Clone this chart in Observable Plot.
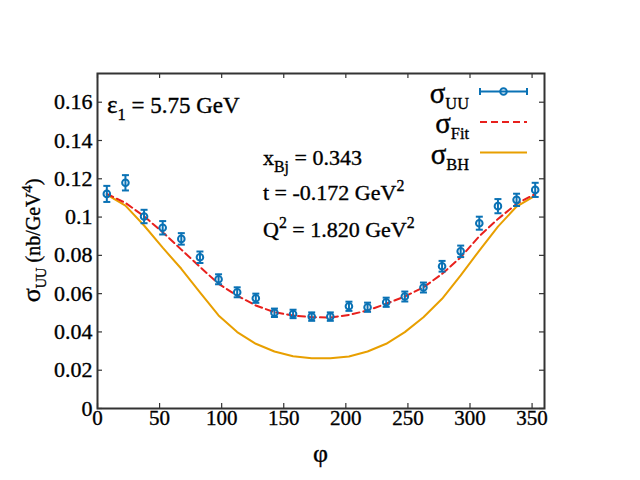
<!DOCTYPE html>
<html>
<head>
<meta charset="utf-8">
<script src="https://cdn.jsdelivr.net/npm/d3@7"></script>
<script src="https://cdn.jsdelivr.net/npm/@observablehq/plot@0.6"></script>
<style>
  html, body { margin: 0; padding: 0; background: white; }
  svg text { font-family: "Liberation Serif", serif; stroke: black; stroke-width: 0.35px; }
</style>
</head>
<body>
<div id="chart"></div>
<script>
// ---- data ----
const phi = [7.5, 22.5, 37.5, 52.5, 67.5, 82.5, 97.5, 112.5, 127.5, 142.5, 157.5, 172.5,
             187.5, 202.5, 217.5, 232.5, 247.5, 262.5, 277.5, 292.5, 307.5, 322.5, 337.5, 352.5];
const sigmaUU = [0.1121, 0.1179, 0.1003, 0.0944, 0.0886, 0.0790, 0.0675, 0.0607, 0.0576, 0.0500, 0.0494, 0.0480,
                 0.0480, 0.0534, 0.0529, 0.0555, 0.0585, 0.0632, 0.0743, 0.0821, 0.0968, 0.1057, 0.1090, 0.1142];
const sigmaErr = [0.0042, 0.0040, 0.0035, 0.0035, 0.0030, 0.0030, 0.0026, 0.0026, 0.0024, 0.0022, 0.0022, 0.0022,
                  0.0022, 0.0024, 0.0024, 0.0024, 0.0026, 0.0026, 0.0028, 0.0030, 0.0034, 0.0037, 0.0032, 0.0037];
const sigmaFit = [0.1121, 0.1074, 0.1004, 0.0921, 0.0830, 0.0740, 0.0651, 0.0590, 0.0538, 0.0503, 0.0486, 0.0477,
                  0.0475, 0.0489, 0.0512, 0.0547, 0.0585, 0.0633, 0.0703, 0.0790, 0.0900, 0.0990, 0.1069, 0.1121];
const sigmaBH = [0.1117, 0.1060, 0.0956, 0.0840, 0.0730, 0.0607, 0.0486, 0.0399, 0.0338, 0.0298, 0.0273, 0.0263,
                 0.0263, 0.0272, 0.0298, 0.0338, 0.0399, 0.0477, 0.0573, 0.0695, 0.0825, 0.0950, 0.1055, 0.1112];

const xTicks = [0, 50, 100, 150, 200, 250, 300, 350];
const yTicks = [0, 0.02, 0.04, 0.06, 0.08, 0.1, 0.12, 0.14, 0.16];

const legendLabels = [["σ", "UU"], ["σ", "Fit"], ["σ", "BH"]];
const annotEps = [["ε", ""], ["1", "sub"], [" = 5.75 GeV", ""]];
const annotX = [["x", ""], ["Bj", "sub"], [" = 0.343", ""]];
const annotT = [["t = -0.172 GeV", ""], ["2", "sup"]];
const annotQ = [["Q", ""], ["2", "sup"], [" = 1.820 GeV", ""], ["2", "sup"]];
const yLabel = [["σ", ""], ["UU", "sub"], [" (nb/GeV", ""], ["4", "sup"], [")", ""]];
const xLabel = "φ";

const rows = phi.map((p, i) => ({phi: p, uu: sigmaUU[i], err: sigmaErr[i], fit: sigmaFit[i], bh: sigmaBH[i]}));

// ---- styles ----
const BLUE = "#0a72b5", RED = "#e8201c", ORANGE = "#e89f00", FRAME = "#333";
const W = 640, H = 480, ML = 97, MR = 96, MT = 73, MB = 72;
const PW = W - ML - MR, PH = H - MT - MB;

const capSymbol = {
  draw(context, size) {
    const w = Math.sqrt(size / Math.PI);
    context.moveTo(-w, 0);
    context.lineTo(w, 0);
  }
};

const chart = Plot.plot({
  width: W, height: H,
  marginLeft: ML, marginRight: MR, marginTop: MT, marginBottom: MB,
  x: {domain: [0, 360]},
  y: {domain: [0, 0.175]},
  style: {fontFamily: "Liberation Serif", fontSize: "20px", color: "#000", background: "white"},
  marks: [
    Plot.line(rows, {x: "phi", y: "bh", stroke: ORANGE, strokeWidth: 2}),
    Plot.line(rows, {x: "phi", y: "fit", stroke: RED, strokeWidth: 2, strokeDasharray: "7,4"}),
    Plot.ruleX(rows, {x: "phi", y1: d => d.uu - d.err, y2: d => d.uu + d.err, stroke: BLUE, strokeWidth: 2}),
    Plot.dot(rows, {x: "phi", y: d => d.uu - d.err, symbol: capSymbol, r: 3.5, stroke: BLUE, strokeWidth: 2, fill: "none"}),
    Plot.dot(rows, {x: "phi", y: d => d.uu + d.err, symbol: capSymbol, r: 3.5, stroke: BLUE, strokeWidth: 2, fill: "none"}),
    Plot.dot(rows, {x: "phi", y: "uu", r: 3.3, stroke: BLUE, strokeWidth: 2, fill: "none"}),
    Plot.axisX({ticks: xTicks, tickSize: 0, tickPadding: 2, label: null, fontSize: 21}),
    Plot.axisY({ticks: yTicks, tickSize: 0, tickPadding: 5, label: null, fontSize: 22, tickFormat: d => String(d)}),
    Plot.tickX(xTicks, {x: d => d, insetTop: PH - 5, stroke: FRAME, strokeWidth: 1.2}),
    Plot.tickX(xTicks, {x: d => d, insetBottom: PH - 5, stroke: FRAME, strokeWidth: 1.2}),
    Plot.tickY(yTicks, {y: d => d, insetRight: PW - 5, stroke: FRAME, strokeWidth: 1.2}),
    Plot.tickY(yTicks, {y: d => d, insetLeft: PW - 5, stroke: FRAME, strokeWidth: 1.2}),
    Plot.frame({stroke: FRAME, strokeWidth: 2})
  ]
});

document.getElementById("chart").appendChild(chart);

// ---- rich text helpers (subscripts / superscripts) ----
const svg = d3.select(chart);
function rich(parent, x, y, parts, size, anchor = "start", greekSize = null, subScale = 0.72) {
  const t = parent.append("text")
    .attr("x", x).attr("y", y)
    .attr("text-anchor", anchor)
    .attr("font-size", size)
    .attr("fill", "black");
  let shift = 0;
  parts.forEach(([s, kind]) => {
    const sp = t.append("tspan").text(s);
    let target = 0, fs = size;
    if (kind === "sub") { target = 0.3 * size; fs = size * subScale; }
    if (kind === "sup") { target = -0.42 * size; fs = size * subScale; }
    if (greekSize && /[σε]/.test(s)) fs = greekSize;
    sp.attr("dy", target - shift).attr("font-size", fs);
    shift = target;
  });
  return t;
}

const g = svg.append("g");
// annotations
rich(g, 107, 113, annotEps, 23, "start", 25);
rich(g, 263, 165, annotX, 22);
rich(g, 263, 200, annotT, 22);
rich(g, 263, 237, annotQ, 22);

// legend
const legendY = [91.5, 122, 152.5];
legendLabels.forEach(([s, sub], i) => {
  rich(g, 469, legendY[i] + 11, [[s, ""], [sub, "sub"]], 21, "end", 29, 0.78);
});
// legend samples
g.append("line").attr("x1", 480).attr("x2", 527).attr("y1", legendY[0]).attr("y2", legendY[0])
  .attr("stroke", BLUE).attr("stroke-width", 2);
[480, 527].forEach(x => g.append("line").attr("x1", x).attr("x2", x)
  .attr("y1", legendY[0] - 3.5).attr("y2", legendY[0] + 3.5).attr("stroke", BLUE).attr("stroke-width", 2));
g.append("circle").attr("cx", 503.5).attr("cy", legendY[0]).attr("r", 3.3)
  .attr("fill", "none").attr("stroke", BLUE).attr("stroke-width", 2);
g.append("line").attr("x1", 480).attr("x2", 527).attr("y1", legendY[1]).attr("y2", legendY[1])
  .attr("stroke", RED).attr("stroke-width", 2).attr("stroke-dasharray", "7,4");
g.append("line").attr("x1", 480).attr("x2", 527).attr("y1", legendY[2]).attr("y2", legendY[2])
  .attr("stroke", ORANGE).attr("stroke-width", 2);

// axis titles
const yl = rich(g, 0, 0, yLabel, 20, "middle", 26);
yl.attr("transform", `translate(40,${MT + PH / 2}) rotate(-90)`);
g.append("text").attr("x", ML + PW / 2).attr("y", 462).attr("text-anchor", "middle")
  .attr("font-size", 26).attr("font-family", "DejaVu Sans").text(xLabel);
</script>
</body>
</html>
